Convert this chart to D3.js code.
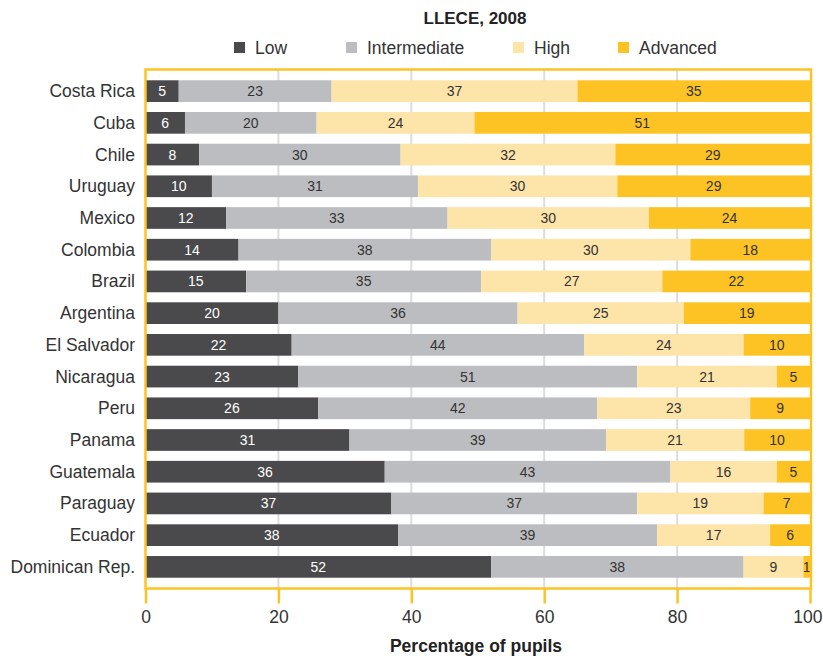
<!DOCTYPE html>
<html><head><meta charset="utf-8">
<script src="https://cdn.jsdelivr.net/npm/d3@7"></script>
<style>body{margin:0;background:#fff;} text{font-family:"Liberation Sans",Arial,sans-serif;}</style>
</head><body>
<svg id="c" width="823" height="656"></svg>
<script>
const countries = ["Costa Rica","Cuba","Chile","Uruguay","Mexico","Colombia","Brazil","Argentina","El Salvador","Nicaragua","Peru","Panama","Guatemala","Paraguay","Ecuador","Dominican Rep."];
const low          = [5,6,8,10,12,14,15,20,22,23,26,31,36,37,38,52];
const intermediate = [23,20,30,31,33,38,35,36,44,51,42,39,43,37,39,38];
const high         = [37,24,32,30,30,30,27,25,24,21,23,21,16,19,17,9];
const advanced     = [35,51,29,29,24,18,22,19,10,5,9,10,5,7,6,1];
const levels = ["Low","Intermediate","High","Advanced"];
const colors = ["#4a4a4c","#bcbdc0","#fde4a9","#fdc325"];
const xTicks = [0,20,40,60,80,100];

const svg = d3.select("#c");
const L = 145.5, R = 810, T = 69.5, B = 588.5;
const x = d3.scaleLinear().domain([0,100]).range([L, R]);
const y = d3.scaleBand().domain(countries).range([T, B]).paddingInner(0.316).paddingOuter(0.34);

// title
svg.append("text").attr("x",475).attr("y",24).attr("text-anchor","middle")
  .attr("font-size",17).attr("font-weight","bold").attr("fill","#222").text("LLECE, 2008");

// legend
const legX = [234,346,513,618];
levels.forEach((l,i)=>{
  svg.append("rect").attr("x",legX[i]).attr("y",42).attr("width",11).attr("height",11).attr("fill",colors[i]);
  svg.append("text").attr("x",legX[i]+21).attr("y",54).attr("font-size",17.5).attr("fill","#333").text(l);
});

// gridlines
svg.append("g").selectAll("line").data(xTicks.slice(1,-1)).join("line")
  .attr("x1",d=>x(d)).attr("x2",d=>x(d)).attr("y1",T).attr("y2",B)
  .attr("stroke","#dddddd").attr("stroke-width",2);

// bars
const rows = countries.map((c,i)=>{
  const vals=[low[i],intermediate[i],high[i],advanced[i]];
  const sum=d3.sum(vals);
  let acc=0;
  return vals.map((v,j)=>{const s=acc; acc+=v; return {c, j, v, x0:s/sum*100, x1:acc/sum*100};});
});
const g = svg.append("g");
rows.forEach(r=>{
  r.forEach(d=>{
    g.append("rect").attr("x",x(d.x0)).attr("y",y(d.c)).attr("width",x(d.x1)-x(d.x0))
      .attr("height",y.bandwidth()).attr("fill",colors[d.j]);
    g.append("text").attr("x",(x(d.x0)+x(d.x1))/2).attr("y",y(d.c)+y.bandwidth()/2+5)
      .attr("text-anchor","middle").attr("font-size",14)
      .attr("fill", d.j===0 ? "#ffffff" : "#333333").text(d.v);
  });
});

// frame
svg.append("rect").attr("x",L).attr("y",T).attr("width",R-L+1).attr("height",B-T)
  .attr("fill","none").attr("stroke","#fdc325").attr("stroke-width",2.5);

// country labels
svg.append("g").selectAll("text").data(countries).join("text")
  .attr("x",135).attr("y",d=>y(d)+y.bandwidth()/2+6).attr("text-anchor","end")
  .attr("font-size",17.5).attr("fill","#333").text(d=>d);

// x axis
const ax = svg.append("g").attr("transform",`translate(0,${B})`)
  .call(d3.axisBottom(x).tickValues(xTicks).tickSize(15).tickPadding(7).tickFormat(d3.format("d")));
ax.select(".domain").remove();
ax.selectAll(".tick line").attr("stroke","#fdc325").attr("stroke-width",2.5);
ax.selectAll(".tick text").attr("font-size",17.5).attr("fill","#333").attr("font-family","Liberation Sans, Arial, sans-serif");
ax.selectAll(".tick text").filter(d=>d===100).attr("text-anchor","end").attr("dx",12);

svg.append("text").attr("x",476).attr("y",652).attr("text-anchor","middle")
  .attr("font-size",17.5).attr("font-weight","bold").attr("fill","#222").text("Percentage of pupils");
</script>
</body></html>
